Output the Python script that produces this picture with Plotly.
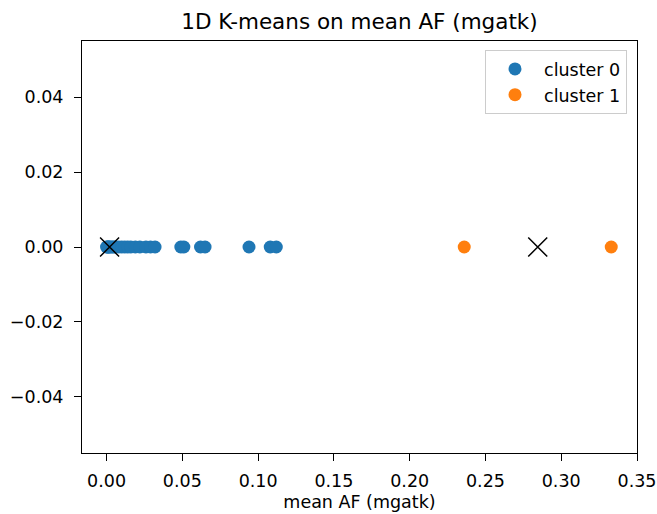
import plotly.graph_objects as go

# Data
cluster0_af = [0.000, 0.0005, 0.001, 0.0015, 0.002, 0.003, 0.004, 0.005, 0.006, 0.008,
               0.010, 0.012, 0.014, 0.016, 0.019, 0.022, 0.026, 0.029, 0.032,
               0.049, 0.051, 0.062, 0.065, 0.094, 0.108, 0.112]
cluster1_af = [0.236, 0.333]
centroids = [0.002, 0.2845]

fig = go.Figure()
fig.add_trace(go.Scatter(x=cluster0_af, y=[0]*len(cluster0_af), mode="markers",
                         name="cluster 0", marker=dict(color="#1f77b4", size=13)))
fig.add_trace(go.Scatter(x=cluster1_af, y=[0]*len(cluster1_af), mode="markers",
                         name="cluster 1", marker=dict(color="#ff7f0e", size=13)))
fig.add_trace(go.Scatter(x=centroids, y=[0]*len(centroids), mode="markers",
                         showlegend=False,
                         marker=dict(symbol="x-thin", size=19, color="black",
                                     line=dict(color="black", width=1.5))))

axis_common = dict(showgrid=False, zeroline=False, showline=True, linecolor="black",
                   linewidth=1, mirror=True, ticks="outside", ticklen=7, tickcolor="black",
                   automargin=False, tickfont=dict(size=17.5, color="black"))
fig.update_layout(
    width=657, height=514,
    margin=dict(l=82, r=20, t=41, b=61),
    paper_bgcolor="white", plot_bgcolor="white",
    font=dict(family="DejaVu Sans", color="black"),
    title=dict(text="1D K-means on mean AF (mgatk)", x=0.5, xanchor="center",
               xref="paper", y=1 - 21/514, yanchor="middle", font=dict(size=21.5)),
    xaxis=dict(range=[-0.0162, 0.35], tickvals=[0, 0.05, 0.1, 0.15, 0.2, 0.25, 0.3, 0.35],
               tickformat=".2f", ticklabelstandoff=5,
               title=dict(text="mean AF (mgatk)", font=dict(size=17.5), standoff=5),
               **axis_common),
    yaxis=dict(range=[-0.055, 0.055], tickvals=[-0.04, -0.02, 0, 0.02, 0.04],
               tickformat=".2f", ticklabelstandoff=7, **axis_common),
    legend=dict(x=0.982, y=0.978, xanchor="right", yanchor="top",
                bordercolor="#cccccc", borderwidth=1, bgcolor="white",
                itemwidth=48, font=dict(size=17.5)),
)
fig.write_html("out.html")
